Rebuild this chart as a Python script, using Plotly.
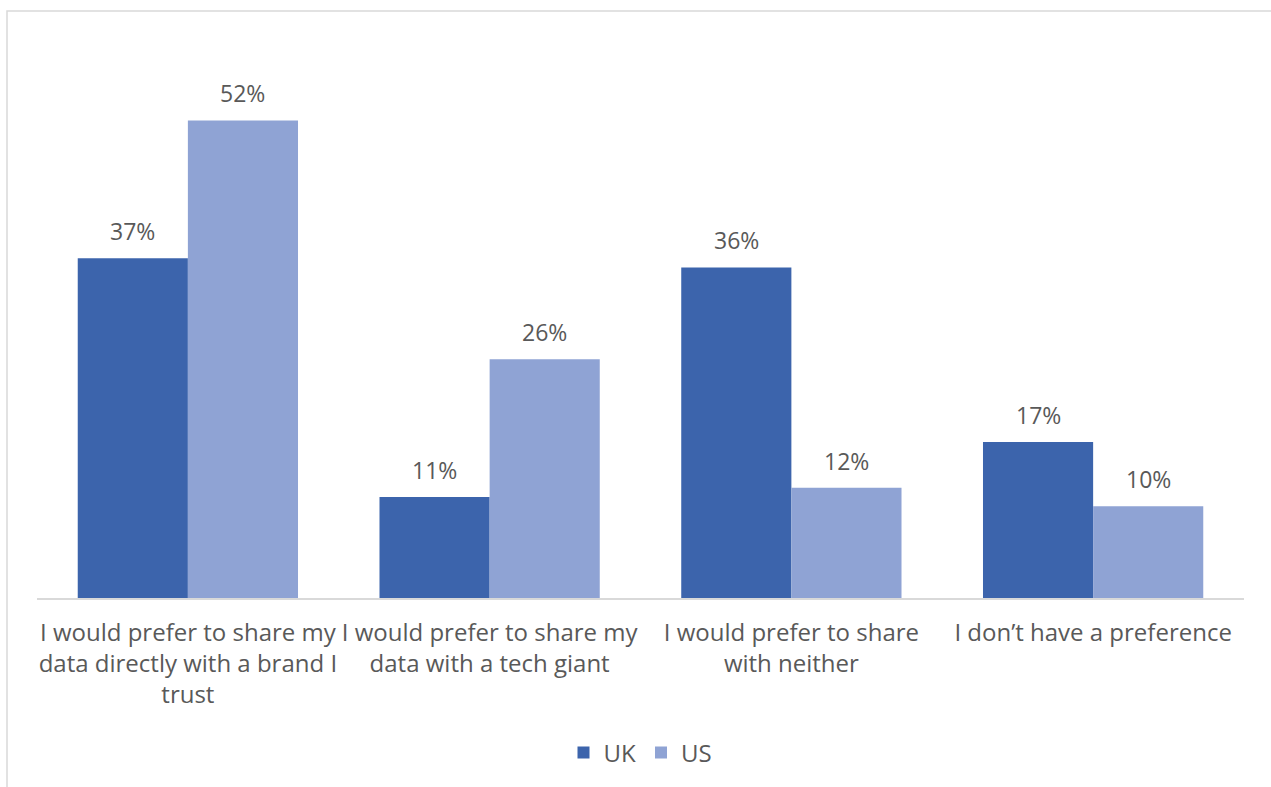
import plotly.graph_objects as go

# Survey responses by country
categories = [
    "I would prefer to share my<br>data directly with a brand I<br>trust",
    "I would prefer to share my<br>data with a tech giant",
    "I would prefer to share<br>with neither",
    "I don\u2019t have a preference",
]
uk_values = [37, 11, 36, 17]
us_values = [52, 26, 12, 10]

UK_COLOR = "#3C64AC"
US_COLOR = "#8FA3D4"
TEXT_COLOR = "#595959"
FONT = "Open Sans"

W, H = 1271, 787
L, R, T, B = 37, 27, 47, 189
plot_w = W - L - R
plot_h = H - T - B

fig = go.Figure()
fig.add_trace(go.Bar(name="UK", x=categories, y=uk_values, marker_color=UK_COLOR,
                     marker_line_width=0))
fig.add_trace(go.Bar(name="US", x=categories, y=us_values, marker_color=US_COLOR,
                     marker_line_width=0))

# Value labels above each bar
bargap = 0.27
bar_w = plot_w / len(categories) * (1 - bargap) / 2
for cat, u, s in zip(categories, uk_values, us_values):
    fig.add_annotation(x=cat, y=u, text=f"{u}%", showarrow=False, xshift=-bar_w / 2,
                       yshift=27, font=dict(family=FONT, size=23, color=TEXT_COLOR))
    fig.add_annotation(x=cat, y=s, text=f"{s}%", showarrow=False, xshift=bar_w / 2,
                       yshift=27, font=dict(family=FONT, size=23, color=TEXT_COLOR))

# Outer chart frame
fig.add_shape(type="rect", xref="paper", yref="paper",
              x0=(7 - L) / plot_w, x1=(W + 20 - L) / plot_w,
              y0=-(H + 20 - (H - B)) / plot_h, y1=(H - B - 11) / plot_h,
              line=dict(color="#D9D9D9", width=1.5), fillcolor="rgba(0,0,0,0)", layer="below")

fig.update_layout(
    width=W, height=H,
    margin=dict(l=L, r=R, t=T, b=B, pad=0),
    barmode="group", bargap=bargap, bargroupgap=0,
    plot_bgcolor="white", paper_bgcolor="white",
    font=dict(family=FONT, size=24, color=TEXT_COLOR),
    showlegend=True,
    legend=dict(orientation="h", x=0.5, xanchor="center", y=-(753 - (H - B)) / plot_h,
                yanchor="middle", font=dict(family=FONT, size=24, color=TEXT_COLOR),
                itemwidth=30, traceorder="normal"),
    xaxis=dict(showline=True, linecolor="#D9D9D9", linewidth=1.5, ticks="",
               ticklabelstandoff=12,
               tickfont=dict(family=FONT, size=24, color=TEXT_COLOR), showgrid=False),
    yaxis=dict(range=[0, 60], visible=False, showgrid=False),
)

fig.write_html("out.html")
